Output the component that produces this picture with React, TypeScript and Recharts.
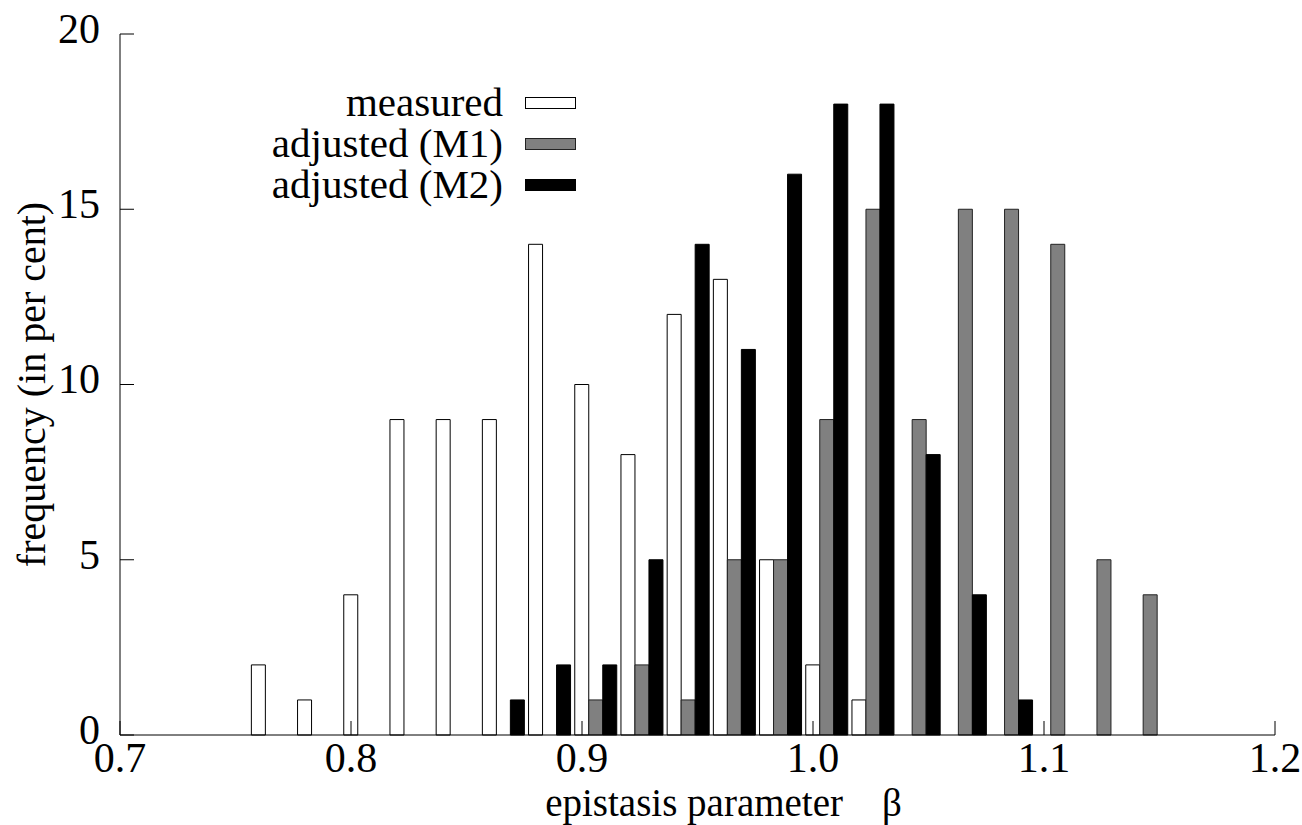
import React from 'react'
import { BarChart, Bar, XAxis, YAxis } from 'recharts'

// histogram bins (left edge of each group of three boxes)
const BINS = [
  0.76, 0.78, 0.8, 0.82, 0.84, 0.86, 0.88, 0.9, 0.92, 0.94,
  0.96, 0.98, 1.0, 1.02, 1.04, 1.06, 1.08, 1.1, 1.12, 1.14
]
const MEASURED = [2, 1, 4, 9, 9, 9, 14, 10, 8, 12, 13, 5, 2, 1, 0, 0, 0, 0, 0, 0]
const ADJ_M1 = [0, 0, 0, 0, 0, 0, 0, 1, 2, 1, 5, 5, 9, 15, 9, 15, 15, 14, 5, 4]
const ADJ_M2 = [0, 0, 0, 0, 0, 1, 2, 2, 5, 14, 11, 16, 18, 18, 8, 4, 1, 0, 0, 0]

const X_TICKS = [0.7, 0.8, 0.9, 1.0, 1.1, 1.2]
const Y_TICKS = [0, 5, 10, 15, 20]

const SERIES = [
  { key: 'measured', name: 'measured', fill: '#ffffff', stroke: '#000000' },
  { key: 'm1', name: 'adjusted (M1)', fill: '#808080', stroke: '#222222' },
  { key: 'm2', name: 'adjusted (M2)', fill: '#000000', stroke: '#000000' }
]

// boxes are drawn side by side starting at the bin value, so the group centre sits one box-width to the right
const GROUP_SHIFT = 0.006

const data = BINS.map((b, i) => ({
  x: b + GROUP_SHIFT,
  measured: MEASURED[i] || null,
  m1: ADJ_M1[i] || null,
  m2: ADJ_M2[i] || null
}))

const FONT = '"Liberation Serif", "Times New Roman", serif'

function YLabel(props: any) {
  const { viewBox } = props
  const cx = 31
  const cy = viewBox.y + viewBox.height / 2
  return (
    <text
      x={cx}
      y={cy}
      transform={`rotate(-90 ${cx} ${cy})`}
      textAnchor="middle"
      dominantBaseline="central"
      fontFamily={FONT}
      fontSize={40}
      fill="#000"
    >
      frequency (in per cent)
    </text>
  )
}

function XLabel(props: any) {
  const { viewBox } = props
  return (
    <text
      x={viewBox.x + viewBox.width / 2 + 26}
      y={816}
      textAnchor="middle"
      fontFamily={FONT}
      fontSize={39}
      fill="#000"
      style={{ whiteSpace: 'pre' }}
    >
      {'epistasis parameter    β'}
    </text>
  )
}

function LegendBox() {
  return (
    <div style={{ position: 'absolute', left: 0, top: 82, width: 576, fontFamily: FONT, fontSize: 41 }}>
      {SERIES.map((s) => (
        <div key={s.key} style={{ display: 'flex', justifyContent: 'flex-end', alignItems: 'center', height: 41 }}>
          <span style={{ lineHeight: '41px' }}>{s.name}</span>
          <span
            style={{
              display: 'inline-block',
              width: 51,
              height: 12,
              marginLeft: 22,
              background: s.fill,
              border: `1px solid ${s.stroke}`,
              boxSizing: 'border-box'
            }}
          />
        </div>
      ))}
    </div>
  )
}

export default function App() {
  return (
    <div style={{ position: 'absolute', left: 0, top: 0, width: 1302, height: 825, background: '#fff' }}>
      <BarChart
        width={1302}
        height={825}
        data={data}
        margin={{ top: 34, right: 27, bottom: 0, left: 20 }}
        barSize={14}
        barGap={0}
      >
        <XAxis
          xAxisId="bottom"
          dataKey="x"
          type="number"
          domain={[0.7, 1.2]}
          ticks={X_TICKS}
          allowDataOverflow
          height={90}
          tickSize={-14}
          tickMargin={21}
          tickFormatter={(v: number) => v.toFixed(1)}
          tick={{ fill: '#000', fontSize: 42, fontFamily: FONT }}
          stroke="#000"
          label={<XLabel />}
        />
        <XAxis
          xAxisId="top"
          orientation="top"
          dataKey="x"
          type="number"
          domain={[0.7, 1.2]}
          ticks={X_TICKS}
          allowDataOverflow
          height={0}
          tickSize={-14}
          tickFormatter={() => ''}
          stroke="#000"
        />
        <YAxis
          yAxisId="left"
          type="number"
          domain={[0, 20]}
          ticks={Y_TICKS}
          width={100}
          tickSize={-14}
          tickMargin={34}
          tick={{ fill: '#000', fontSize: 42, fontFamily: FONT, dy: -6 }}
          stroke="#000"
          label={<YLabel />}
        />
        <YAxis
          yAxisId="right"
          orientation="right"
          type="number"
          domain={[0, 20]}
          ticks={Y_TICKS}
          width={0}
          tickSize={-14}
          tickFormatter={() => ''}
          stroke="#000"
        />
        {SERIES.map((s) => (
          <Bar
            key={s.key}
            dataKey={s.key}
            name={s.name}
            xAxisId="bottom"
            yAxisId="left"
            fill={s.fill}
            stroke={s.stroke}
            strokeWidth={1}
            isAnimationActive={false}
          />
        ))}
      </BarChart>
      <LegendBox />
    </div>
  )
}
